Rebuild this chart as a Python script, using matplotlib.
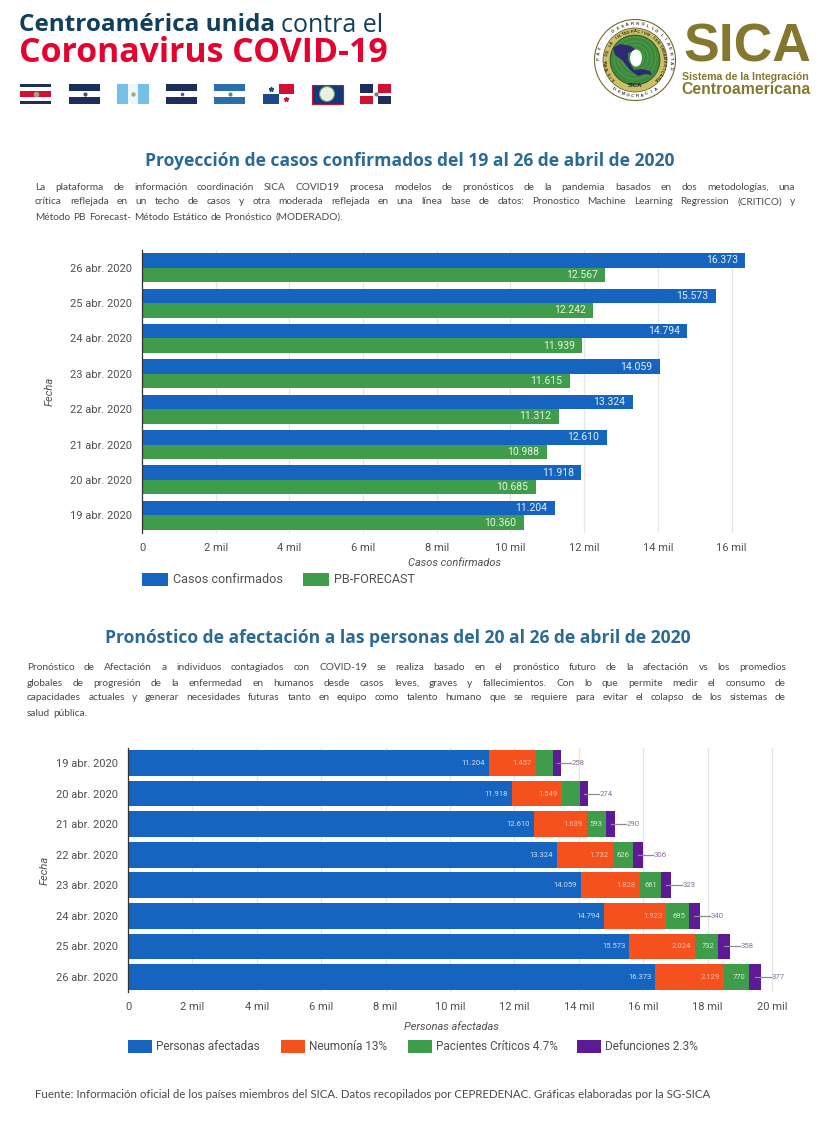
import matplotlib
matplotlib.use("Agg")
import matplotlib.pyplot as plt
from matplotlib.patches import Rectangle, Circle, Ellipse, Polygon
import numpy as np

W, H = 825, 1125
dates = ["19 abr. 2020", "20 abr. 2020", "21 abr. 2020", "22 abr. 2020",
         "23 abr. 2020", "24 abr. 2020", "25 abr. 2020", "26 abr. 2020"]
casos = [11204, 11918, 12610, 13324, 14059, 14794, 15573, 16373]
forecast = [10360, 10685, 10988, 11312, 11615, 11939, 12242, 12567]
neumonia = [1457, 1549, 1639, 1732, 1828, 1923, 2024, 2129]
criticos = [527, 560, 593, 626, 661, 695, 732, 770]
defunciones = [258, 274, 290, 306, 323, 340, 358, 377]
crit_labels = ["", "", "593", "626", "661", "695", "732", "770"]
ticks1 = [0, 2000, 4000, 6000, 8000, 10000, 12000, 14000, 16000]
ticklabels1 = ["0", "2 mil", "4 mil", "6 mil", "8 mil", "10 mil", "12 mil", "14 mil", "16 mil"]
ticks2 = [0, 2000, 4000, 6000, 8000, 10000, 12000, 14000, 16000, 18000, 20000]
ticklabels2 = ticklabels1 + ["18 mil", "20 mil"]

BLUE, GREEN, ORANGE, PURPLE = "#1565C0", "#3F9C4A", "#F4511E", "#5E1A96"
TITLE = "#2B6A94"
BODY = "#4a4a4a"
AXTXT = "#505050"
fmt = lambda v: f"{v:,}".replace(",", ".")

fig = plt.figure(figsize=(W / 100, H / 100), dpi=100, facecolor="white")
bg = fig.add_axes([0, 0, 1, 1])
bg.set_xlim(0, W); bg.set_ylim(H, 0); bg.axis("off")


def axes_px(x0, y0, x1, y1):
    return fig.add_axes([x0 / W, 1 - y1 / H, (x1 - x0) / W, (y1 - y0) / H])


def justified(lines, x0, x1, y, dy, size, last_plain=True):
    r = fig.canvas.get_renderer()
    for i, line in enumerate(lines):
        words = line.split(" ")
        ts = [bg.text(0, y + i * dy, w, fontsize=size, family="Lato", color=BODY, va="center", ha="left")
              for w in words]
        ws = [t.get_window_extent(r).width for t in ts]
        sp = size * 0.42
        if not (last_plain and i == len(lines) - 1) and len(words) > 1:
            sp = (x1 - x0 - sum(ws)) / (len(words) - 1)
        x = x0
        for t, w in zip(ts, ws):
            t.set_x(x)
            x += w + sp


# ---------- header ----------
bg.text(19, 25, "Centroamérica unida", fontsize=17.5, weight="bold", family="Open Sans", color="#123F5C", va="center")
bg.text(281, 25, "contra el", fontsize=18, family="Open Sans", color="#123F5C", va="center")
bg.text(19, 53, "Coronavirus COVID-19", fontsize=24.4, weight="bold", family="Open Sans", color="#E4032E", va="center")


def stripes(x, cols, weights, y=84, w=31, h=20):
    total = sum(weights)
    top = y
    for c, wt in zip(cols, weights):
        bg.add_patch(Rectangle((x, top), w, h * wt / total, fc=c, ec="none"))
        top += h * wt / total


N, WH, R, SKY, NIC = "#1c2f5c", "#ffffff", "#d21034", "#74c0e6", "#2a6fb0"
stripes(20, [N, WH, R, WH, N], [1, 1, 2, 1, 1])
stripes(69, [N, WH, N], [1, 1, 1])
bg.add_patch(Rectangle((117, 84), 10.5, 20, fc=SKY, ec="none"))
bg.add_patch(Rectangle((127.5, 84), 10.5, 20, fc="#eef6fa", ec="none"))
bg.add_patch(Rectangle((138, 84), 10.5, 20, fc=SKY, ec="none"))
stripes(166, [N, WH, N], [1, 1, 1])
stripes(214, [NIC, WH, NIC], [1, 1, 1])
bg.add_patch(Rectangle((263, 84), 15.5, 10, fc=WH, ec="none"))
bg.add_patch(Rectangle((278.5, 84), 15.5, 10, fc=R, ec="none"))
bg.add_patch(Rectangle((263, 94), 15.5, 10, fc="#1a4a8c", ec="none"))
bg.add_patch(Rectangle((278.5, 94), 15.5, 10, fc=WH, ec="none"))
bg.plot([270.5], [89], "*", ms=3.5, color="#1a4a8c")
bg.plot([286], [99], "*", ms=3.5, color=R)
bg.add_patch(Rectangle((312, 84.5), 30.5, 19.5, fc="#123a78", ec=R, lw=0.8))
bg.add_patch(Circle((327, 94), 7.5, fc="#e9efe2", ec="#6f9a58", lw=0.8))
bg.add_patch(Rectangle((360, 84), 31, 20, fc=WH, ec="none"))
for x, y, c in [(360, 84, N), (378, 84, R), (360, 95.5, R), (378, 95.5, N)]:
    bg.add_patch(Rectangle((x, y), 13, 8.5, fc=c, ec="none"))
bg.plot([35.5], [94], "o", ms=3, color="#a8a08a")
bg.plot([84.5], [94], "o", ms=2, color="#4b4f7a")
bg.plot([132.5], [94], "o", ms=2.2, color="#9ab07e")
bg.plot([181.5], [94], "o", ms=1.6, color="#4a5b9a")
bg.plot([229.5], [94], "o", ms=2, color="#5f8f6a")
bg.plot([375.5], [94], "o", ms=2, color="#777777")


def ring_text(s, cx, cy, radius, mid_deg, step, size, color, bottom=False):
    n = len(s)
    for i, ch in enumerate(s):
        off = (i - (n - 1) / 2) * step
        ang = mid_deg + off if bottom else mid_deg - off
        rad = np.deg2rad(ang)
        rot = ang + 90 if bottom else ang - 90
        bg.text(cx + radius * np.cos(rad), cy - radius * np.sin(rad), ch, fontsize=size, weight="bold",
                ha="center", va="center", color=color, rotation=rot, family="Liberation Sans")


# logo
cx, cy = 635, 60
bg.add_patch(Circle((cx, cy), 40.5, fc="white", ec="#6f6a2a", lw=0.8))
bg.add_patch(Circle((cx, cy), 32, fc="#CDBF6A", ec="#55501f", lw=0.5))
bg.add_patch(Circle((cx, cy), 25, fc="#3E8A3C", ec="#22441f", lw=0.5))
for r_ in (21, 17, 13, 9):
    bg.add_patch(Circle((cx, cy - 2), r_, fc="none", ec="#63a65c", lw=0.4))
bg.add_patch(Polygon([(613, 48), (620, 44), (631, 46), (636, 50), (628, 53), (628, 60), (634, 70), (642, 69),
                      (650, 71), (652, 75), (645, 74), (638, 76), (630, 70), (622, 60), (615, 55)],
                     fc="#2E2A72", ec="none"))
bg.add_patch(Ellipse((cx + 1, cy - 2), 12, 17, fc="white", ec="none"))
ring_text("SISTEMA DE LA INTEGRACION CENTROAMERICANA", cx, cy, 28.5, 90, 6.6, 2.9, "#2b2a10")
bg.text(cx, cy + 25.5, "SICA", fontsize=4.4, weight="bold", ha="center", va="center", color="#222222",
        family="Liberation Sans")
ring_text("DESARROLLO", cx, cy, 36, 90, 8, 3.1, "#333333")
ring_text("DEMOCRACIA", cx, cy, 36, 270, 8, 3.1, "#333333", bottom=True)
ring_text("PAZ", cx, cy, 36, 170, 8, 3.1, "#333333")
ring_text("LIBERTAD", cx, cy, 36, 15, 8, 3.1, "#333333")
bg.text(683, 48, "SICA", fontsize=38.5, weight="bold", family="Liberation Sans", color="#84782F", va="center")
bg.text(682, 77, "Sistema de la Integración", fontsize=7.6, weight="bold", family="Liberation Sans", color="#84782F", va="center")
bg.text(681, 90, "Centroamericana", fontsize=11.3, weight="bold", family="Liberation Sans", color="#84782F", va="center")

# ---------- section texts ----------
bg.text(409.5, 161, "Proyección de casos confirmados del 19 al 26 de abril de 2020", fontsize=12.6, weight="bold",
        family="Open Sans", color=TITLE, ha="center", va="center")
fig.canvas.draw()
justified(["La plataforma de información coordinación SICA COVID19 procesa modelos de pronósticos de la pandemia basados en dos metodologías, una",
           "crítica reflejada en un techo de casos y otra moderada reflejada en una línea base de datos: Pronostico Machine Learning Regression (CRITICO) y",
           "Método PB Forecast- Método Estático de Pronóstico (MODERADO)."],
          35, 795, 187, 15, 7.3)
bg.text(398, 638, "Pronóstico de afectación a las personas del 20 al 26 de abril de 2020", fontsize=12.6, weight="bold",
        family="Open Sans", color=TITLE, ha="center", va="center")
justified(["Pronóstico de Afectación a individuos contagiados con COVID-19 se realiza basado en el pronóstico futuro de la afectación vs los promedios",
           "globales de progresión de la enfermedad en humanos desde casos leves, graves y fallecimientos. Con lo que permite medir el consumo de",
           "capacidades actuales y generar necesidades futuras tanto en equipo como talento humano que se requiere para evitar el colapso de los sistemas de",
           "salud pública."],
          27, 786, 668, 15, 7.3)
bg.text(35, 1095, "Fuente: Información oficial de los países miembros del SICA. Datos recopilados por CEPREDENAC. Gráficas elaboradas por la SG-SICA",
        fontsize=8.24, family="Lato", color=BODY, va="center")

y_pos = np.arange(len(dates))


def style(ax, ypos, ticks, labels, xlim, xlabel, xlabel_xy, ylabelx):
    ax.set_xlim(*xlim)
    ax.set_ylim(-0.5, len(dates) - 0.5)
    ax.set_xticks(ticks)
    ax.set_xticklabels(labels, fontsize=8, family="Roboto", color=AXTXT)
    ax.set_yticks(ypos)
    ax.set_yticklabels(dates, fontsize=8, family="Roboto", color=AXTXT)
    ax.tick_params(axis="both", length=0, pad=7)
    ax.grid(axis="x", color="#E6E6E6", lw=0.9)
    ax.set_axisbelow(True)
    for s in ("top", "right", "bottom"):
        ax.spines[s].set_visible(False)
    ax.spines["left"].set_color("#333333")
    ax.spines["left"].set_linewidth(0.9)
    ax.set_xlabel(xlabel, fontsize=7.9, style="italic", family="Roboto", color=AXTXT)
    ax.xaxis.set_label_coords(*xlabel_xy)
    ax.set_ylabel("Fecha", fontsize=8, style="italic", family="Roboto", color=AXTXT)
    ax.yaxis.set_label_coords(ylabelx, 0.5)


# ---------- chart 1 ----------
ax1 = axes_px(142, 250, 768, 533)
h = 0.41
ax1.barh(y_pos + h / 2, casos, height=h, color=BLUE)
ax1.barh(y_pos - h / 2, forecast, height=h, color=GREEN)
for y, a, b in zip(y_pos, casos, forecast):
    ax1.text(a - 200, y + h / 2, fmt(a), color="#e4eef9", fontsize=7.5, family="Roboto", ha="right", va="center")
    ax1.text(b - 200, y - h / 2, fmt(b), color="#e8f4e8", fontsize=7.5, family="Roboto", ha="right", va="center")
style(ax1, y_pos, ticks1, ticklabels1, (0, 16990), "Casos confirmados", (0.5, -0.09), -0.139)

for x, c, label in [(142, BLUE, "Casos confirmados"), (303, GREEN, "PB-FORECAST")]:
    bg.add_patch(Rectangle((x, 573), 26, 13, fc=c, ec="none"))
    bg.text(x + 31, 579.5, label, fontsize=9.1, family="Roboto", color=AXTXT, va="center")

# ---------- chart 2 ----------
ax2 = axes_px(128, 747.7, 790, 992.3)
y2 = y_pos[::-1]
left = np.zeros(len(dates))
for vals, col in [(casos, BLUE), (neumonia, ORANGE), (criticos, GREEN), (defunciones, PURPLE)]:
    ax2.barh(y2, vals, left=left, height=0.84, color=col)
    left = left + np.array(vals)
cum1 = np.array(casos)
cum2 = cum1 + np.array(neumonia)
cum3 = cum2 + np.array(criticos)
cum4 = cum3 + np.array(defunciones)
for i, y in enumerate(y2):
    ax2.text(cum1[i] - 120, y, fmt(casos[i]), color="#c9dcf2", fontsize=5.5, family="Roboto", ha="right", va="center")
    ax2.text(cum2[i] - 120, y, fmt(neumonia[i]), color="#ffbfa8", fontsize=5.5, family="Roboto", ha="right", va="center")
    if crit_labels[i]:
        ax2.text(cum3[i] - 100, y, crit_labels[i], color="#d5ecd6", fontsize=5.5, family="Roboto", ha="right", va="center")
    ax2.plot([cum3[i] + defunciones[i] / 2, cum4[i] + 320], [y, y], color="#8c8c8c", lw=0.9)
    ax2.text(cum4[i] + 340, y, str(defunciones[i]), color="#8a6f9c", fontsize=5.6, family="Roboto", ha="left", va="center")
style(ax2, y2, ticks2, ticklabels2, (0, 20560), "Personas afectadas", (0.488, -0.12), -0.119)

for x, c, label in [(128, BLUE, "Personas afectadas"), (281, ORANGE, "Neumonía 13%"),
                    (408, GREEN, "Pacientes Críticos 4.7%"), (577, PURPLE, "Defunciones 2.3%")]:
    bg.add_patch(Rectangle((x, 1040), 24, 13, fc=c, ec="none"))
    bg.text(x + 28, 1046.5, label, fontsize=8.5, family="Roboto", color=AXTXT, va="center")

fig.savefig("out.png", dpi=100, facecolor="white")
